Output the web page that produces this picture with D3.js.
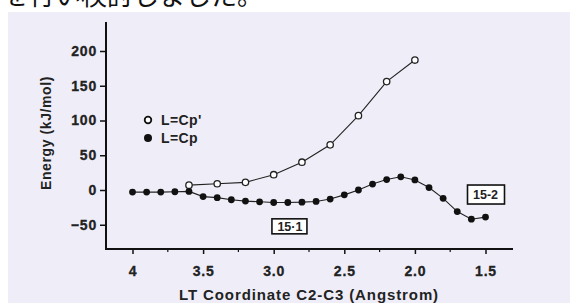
<!DOCTYPE html>
<html>
<head>
<meta charset="utf-8">
<script src="https://cdn.jsdelivr.net/npm/d3@7"></script>
<style>
  body { margin: 0; background: #fff; }
  svg { display: block; }
  .tick text { font-family: "Liberation Sans", Arial, sans-serif; font-weight: bold; font-size: 14px; letter-spacing: 0.8px; fill: #222; stroke: #222; stroke-width: 0.3px; }
</style>
</head>
<body>
<script>
// ---------------- data ----------------
let openX = [3.6, 3.4, 3.2, 3.0, 2.8, 2.6, 2.4, 2.2, 2.0];
let openY = [7, 9, 11, 22, 40, 65, 107, 156, 187];

let filledX = [4.0, 3.9, 3.8, 3.7, 3.6, 3.5, 3.4, 3.3, 3.2, 3.1, 3.0, 2.9, 2.8, 2.7, 2.6,
               2.5, 2.4, 2.3, 2.2, 2.1, 2.0, 1.9, 1.8, 1.7, 1.6, 1.5];
let filledY = [-3, -3, -3, -2.5, -2, -9.5, -11, -14, -16, -17, -18, -18, -17.5, -16.5, -13,
               -7, 0, 8.5, 15, 19, 14.5, 3.5, -12, -31, -42, -39];

let xTicks = [4, 3.5, 3.0, 2.5, 2.0, 1.5];
let xTickLabels = ['4', '3.5', '3.0', '2.5', '2.0', '1.5'];
let xMinorTicks = [3.75, 3.25, 2.75, 2.25, 1.75];
let yTicks = [-50, 0, 50, 100, 150, 200];

let legendNames = ["L=Cp'", 'L=Cp'];
let boxLabels = [{ t: '15\u00b71', x: 2.885, y: -53 }, { t: '15-2', x: 1.5, y: -6.5 }];

// ---------------- svg ----------------
let svg = d3.select('body')
    .append('svg')
        .attr('width', 570)
        .attr('height', 303);

svg.append('text')
    .attr('x', 3)
    .attr('y', 5)
    .attr('font-family', '"Noto Sans CJK JP", sans-serif')
    .attr('font-size', 26)
    .attr('fill', '#111')
    .text('を行い検討しました。');

svg.append('rect')
    .attr('x', 8)
    .attr('y', 12)
    .attr('width', 562)
    .attr('height', 291)
    .attr('fill', '#efeef8');

let x = d3.scaleLinear().domain([4, 1.5]).range([132.5, 485.5]);
let y = d3.scaleLinear().domain([0, 200]).range([190, 51]);

// ============ AXES ============
let yAxis = svg.append('g')
    .attr('transform', 'translate(106,0)')
    .call(d3.axisLeft(y).tickValues(yTicks).tickSize(6).tickPadding(3));
yAxis.select('.domain').remove();
yAxis.selectAll('.tick line').attr('stroke', '#111').attr('stroke-width', 1.5);

let xAxis = svg.append('g')
    .attr('transform', 'translate(0,249)')
    .call(d3.axisBottom(x).tickValues(xTicks).tickSize(5).tickPadding(12)
        .tickFormat(function (d, i) { return xTickLabels[i]; }));
xAxis.select('.domain').remove();
xAxis.selectAll('.tick line').attr('stroke', '#111').attr('stroke-width', 1.5);

svg.append('g')
    .selectAll('line')
    .data(xMinorTicks).enter()
    .append('line')
        .attr('x1', function (d) { return x(d); })
        .attr('x2', function (d) { return x(d); })
        .attr('y1', 249)
        .attr('y2', 252)
        .attr('stroke', '#111')
        .attr('stroke-width', 1.2);

svg.append('line')
    .attr('x1', 106).attr('x2', 106)
    .attr('y1', 22).attr('y2', 250)
    .attr('stroke', '#111').attr('stroke-width', 2);
svg.append('line')
    .attr('x1', 105).attr('x2', 513)
    .attr('y1', 249).attr('y2', 249)
    .attr('stroke', '#111').attr('stroke-width', 2);

svg.append('text')
    .attr('transform', 'translate(51,133) rotate(-90)')
    .attr('text-anchor', 'middle')
    .attr('font-family', '"Liberation Sans", Arial, sans-serif')
    .attr('font-weight', 'bold')
    .attr('font-size', 14)
    .attr('letter-spacing', 0.6)
    .attr('fill', '#222')
    .text('Energy (kJ/mol)');

svg.append('text')
    .attr('x', 309)
    .attr('y', 300)
    .attr('text-anchor', 'middle')
    .attr('font-family', '"Liberation Sans", Arial, sans-serif')
    .attr('font-weight', 'bold')
    .attr('font-size', 15)
    .attr('letter-spacing', 0.9)
    .attr('fill', '#222')
    .text('LT Coordinate C2-C3 (Angstrom)');

// ============ LINES ============
let lineGen = d3.line()
    .x(function (d) { return x(d[0]); })
    .y(function (d) { return y(d[1]); });

let openData = openX.map(function (d, i) { return [d, openY[i]]; });
let filledData = filledX.map(function (d, i) { return [d, filledY[i]]; });

svg.append('path')
    .attr('d', lineGen(openData))
    .attr('fill', 'none')
    .attr('stroke', '#222')
    .attr('stroke-width', 1.1);

svg.append('path')
    .attr('d', lineGen(filledData))
    .attr('fill', 'none')
    .attr('stroke', '#222')
    .attr('stroke-width', 1.1);

svg.append('g')
    .selectAll('circle')
    .data(openData).enter()
    .append('circle')
        .attr('cx', function (d) { return x(d[0]); })
        .attr('cy', function (d) { return y(d[1]); })
        .attr('r', 3.2)
        .attr('fill', '#fff')
        .attr('stroke', '#222')
        .attr('stroke-width', 1.3);

svg.append('g')
    .selectAll('circle')
    .data(filledData).enter()
    .append('circle')
        .attr('cx', function (d) { return x(d[0]); })
        .attr('cy', function (d) { return y(d[1]); })
        .attr('r', 3.4)
        .attr('fill', '#111');

// ============ LEGEND ============
let legend = svg.append('g');
legend.selectAll('circle')
    .data(legendNames).enter()
    .append('circle')
        .attr('cx', 148)
        .attr('cy', function (d, i) { return 120 + i * 18; })
        .attr('r', function (d, i) { return i === 0 ? 3.3 : 4; })
        .attr('fill', function (d, i) { return i === 0 ? '#fff' : '#111'; })
        .attr('stroke', '#111')
        .attr('stroke-width', function (d, i) { return i === 0 ? 1.8 : 0; });
legend.selectAll('text')
    .data(legendNames).enter()
    .append('text')
        .attr('x', 161)
        .attr('y', function (d, i) { return 125 + i * 18; })
        .attr('font-family', '"Liberation Sans", Arial, sans-serif')
        .attr('font-weight', 'bold')
        .attr('font-size', 14)
        .attr('letter-spacing', 0.4)
        .attr('fill', '#222')
        .text(function (d) { return d; });

// ============ BOX LABELS ============
let boxes = svg.append('g')
    .selectAll('g')
    .data(boxLabels).enter()
    .append('g')
        .attr('transform', function (d) { return 'translate(' + x(d.x) + ',' + y(d.y) + ')'; });
boxes.append('rect')
    .attr('x', -18)
    .attr('y', function (d, i) { return i === 0 ? -8 : -9.5; })
    .attr('width', function (d, i) { return i === 0 ? 35 : 37; })
    .attr('height', function (d, i) { return i === 0 ? 15 : 19; })
    .attr('fill', '#fff')
    .attr('stroke', '#111')
    .attr('stroke-width', 1.6);
boxes.append('text')
    .attr('x', 0)
    .attr('y', 4.5)
    .attr('text-anchor', 'middle')
    .attr('font-family', '"Liberation Sans", Arial, sans-serif')
    .attr('font-weight', 'bold')
    .attr('font-size', 12.5)
    .attr('fill', '#222')
    .text(function (d) { return d.t; });
</script>
</body>
</html>
